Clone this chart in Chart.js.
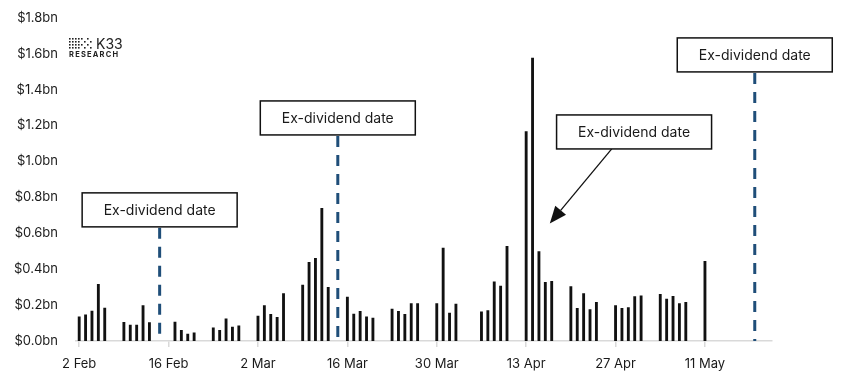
<!DOCTYPE html>
<html>
<head>
<meta charset="utf-8">
<script src="https://cdn.jsdelivr.net/npm/chart.js@4.4.1/dist/chart.umd.min.js"></script>
<style>
  html, body { margin: 0; padding: 0; background: #fff; }
  #wrap { width: 847px; height: 383px; }
</style>
</head>
<body>
<div id="wrap"><canvas id="chart" width="847" height="383"></canvas></div>
<script>
// daily volume, US trading days only ($bn)
const startDate = '2026-02-02';
const tradeDates = [
  '2026-02-02', '2026-02-03', '2026-02-04', '2026-02-05', '2026-02-06',
  '2026-02-09', '2026-02-10', '2026-02-11', '2026-02-12', '2026-02-13',
  '2026-02-17', '2026-02-18', '2026-02-19', '2026-02-20',
  '2026-02-23', '2026-02-24', '2026-02-25', '2026-02-26', '2026-02-27',
  '2026-03-02', '2026-03-03', '2026-03-04', '2026-03-05', '2026-03-06',
  '2026-03-09', '2026-03-10', '2026-03-11', '2026-03-12', '2026-03-13',
  '2026-03-16', '2026-03-17', '2026-03-18', '2026-03-19', '2026-03-20',
  '2026-03-23', '2026-03-24', '2026-03-25', '2026-03-26', '2026-03-27',
  '2026-03-30', '2026-03-31', '2026-04-01', '2026-04-02',
  '2026-04-06', '2026-04-07', '2026-04-08', '2026-04-09', '2026-04-10',
  '2026-04-13', '2026-04-14', '2026-04-15', '2026-04-16', '2026-04-17',
  '2026-04-20', '2026-04-21', '2026-04-22', '2026-04-23', '2026-04-24',
  '2026-04-27', '2026-04-28', '2026-04-29', '2026-04-30', '2026-05-01',
  '2026-05-04', '2026-05-05', '2026-05-06', '2026-05-07', '2026-05-08',
  '2026-05-11'
];
const volumeBn = [
  0.134, 0.146, 0.167, 0.315, 0.184,
  0.104, 0.089, 0.089, 0.197, 0.102,
  0.106, 0.060, 0.039, 0.045,
  0.074, 0.060, 0.123, 0.078, 0.085,
  0.139, 0.197, 0.149, 0.132, 0.264,
  0.312, 0.438, 0.461, 0.739, 0.299,
  0.245, 0.150, 0.165, 0.135, 0.128,
  0.178, 0.165, 0.149, 0.208, 0.208,
  0.208, 0.518, 0.156, 0.206,
  0.163, 0.169, 0.329, 0.306, 0.527,
  1.166, 1.575, 0.498, 0.327, 0.332,
  0.303, 0.182, 0.264, 0.175, 0.215,
  0.197, 0.182, 0.186, 0.247, 0.252,
  0.260, 0.234, 0.249, 0.208, 0.215,
  0.444
];
const tickDates = ['2026-02-02', '2026-02-16', '2026-03-02', '2026-03-16', '2026-03-30', '2026-04-13', '2026-04-27', '2026-05-11'];
const tickLabels = ['2 Feb', '16 Feb', '2 Mar', '16 Mar', '30 Mar', '13 Apr', '27 Apr', '11 May'];
// ex-dividend markers, days after 2 Feb
const exDivDays = [12.6, 40.5, 105.8];
const calloutText = 'Ex-dividend date';

const FONT = 'Inter, "Noto Sans", sans-serif';
const TEXT = '#1a1a1a';

function dayOf(iso) {
  return (Date.parse(iso) - Date.parse(startDate)) / 86400000;
}

// callout boxes: x in days, top in $bn
const callouts = [
  { x: exDivDays[0], top: 0.825, dashed: true },
  { x: exDivDays[1], top: 1.337, dashed: true },
  { x: exDivDays[2], top: 1.688, dashed: true },
  { x: 86.9, top: 1.259, arrow: { fromX: 83.4, toX: 73.7, toY: 0.655 } }
];

const calloutPlugin = {
  id: 'callouts',
  afterDatasetsDraw(chart) {
    const { ctx, scales: { x, y } } = chart;
    const base = y.getPixelForValue(0);
    const boxW = 155, boxH = 34;
    ctx.save();

    callouts.forEach(c => {
      const cx = x.getPixelForValue(c.x);
      const top = y.getPixelForValue(c.top);
      const bottom = top + boxH;

      if (c.dashed) {
        ctx.beginPath();
        ctx.setLineDash([11, 8]);
        ctx.lineWidth = 3;
        ctx.strokeStyle = '#1f4e79';
        ctx.moveTo(cx, bottom + 1);
        ctx.lineTo(cx, base);
        ctx.stroke();
        ctx.setLineDash([]);
      }

      if (c.arrow) {
        const sx = x.getPixelForValue(c.arrow.fromX);
        const tx = x.getPixelForValue(c.arrow.toX);
        const ty = y.getPixelForValue(c.arrow.toY);
        const ang = Math.atan2(ty - bottom, tx - sx);
        const len = 17, half = 7;
        const bx = tx - len * Math.cos(ang), by = ty - len * Math.sin(ang);
        ctx.beginPath();
        ctx.lineWidth = 1.3;
        ctx.strokeStyle = '#111';
        ctx.moveTo(sx, bottom);
        ctx.lineTo(bx, by);
        ctx.stroke();
        ctx.beginPath();
        ctx.fillStyle = '#111';
        ctx.moveTo(tx, ty);
        ctx.lineTo(bx + half * Math.sin(ang), by - half * Math.cos(ang));
        ctx.lineTo(bx - half * Math.sin(ang), by + half * Math.cos(ang));
        ctx.closePath();
        ctx.fill();
      }

      ctx.fillStyle = '#fff';
      ctx.fillRect(cx - boxW / 2, top, boxW, boxH);
      ctx.lineWidth = 1.5;
      ctx.strokeStyle = '#111';
      ctx.strokeRect(cx - boxW / 2, top, boxW, boxH);
      ctx.fillStyle = TEXT;
      ctx.font = '14px ' + FONT;
      ctx.textAlign = 'center';
      ctx.textBaseline = 'middle';
      ctx.fillText(calloutText, cx, top + boxH / 2 + 1);
    });

    // K33 Research mark
    const lx = 69, ly = 38;
    ctx.fillStyle = '#222';
    for (let col = 0; col < 8; col++) {
      for (let row = 0; row < 4; row++) {
        if (col > 3 && (row + col) % 2 === 1) continue;
        ctx.fillRect(lx + col * 3, ly + row * 3, 1.6, 1.6);
      }
    }
    ctx.textAlign = 'left';
    ctx.textBaseline = 'alphabetic';
    ctx.font = '14px ' + FONT;
    ctx.fillText('K33', lx + 27, ly + 11);
    ctx.font = 'bold 7.5px ' + FONT;
    ctx.letterSpacing = '1.2px';
    ctx.fillText('RESEARCH', lx, ly + 19);
    ctx.letterSpacing = '0px';

    ctx.restore();
  }
};

new Chart(document.getElementById('chart'), {
  type: 'bar',
  data: {
    datasets: [{
      data: tradeDates.map((d, i) => ({ x: dayOf(d), y: volumeBn[i] })),
      backgroundColor: '#111',
      barThickness: 2.2
    }]
  },
  options: {
    responsive: false,
    animation: false,
    layout: { padding: { left: 0, right: 75, top: 12, bottom: 0 } },
    plugins: { legend: { display: false }, tooltip: { enabled: false } },
    scales: {
      x: {
        type: 'linear',
        offset: false,
        min: -0.5,
        max: 108.5,
        afterBuildTicks: s => { s.ticks = tickDates.map(d => ({ value: dayOf(d) })); },
        afterFit: s => { s.height = 42; },
        ticks: {
          callback: (v, i) => tickLabels[i],
          autoSkip: false,
          maxRotation: 0,
          padding: 9,
          color: TEXT,
          font: { family: FONT, size: 13 }
        },
        grid: { offset: false, drawOnChartArea: false, tickLength: 6, color: '#d9d9d9', lineWidth: 1.5 },
        border: { color: '#d9d9d9', width: 1.5 }
      },
      y: {
        min: 0,
        max: 1.8,
        afterFit: s => { s.width = 76; },
        ticks: {
          stepSize: 0.2,
          callback: v => '$' + v.toFixed(1) + 'bn',
          padding: 10,
          color: TEXT,
          font: { family: FONT, size: 13 }
        },
        grid: { display: false },
        border: { display: false }
      }
    }
  },
  plugins: [calloutPlugin]
});
</script>
</body>
</html>
